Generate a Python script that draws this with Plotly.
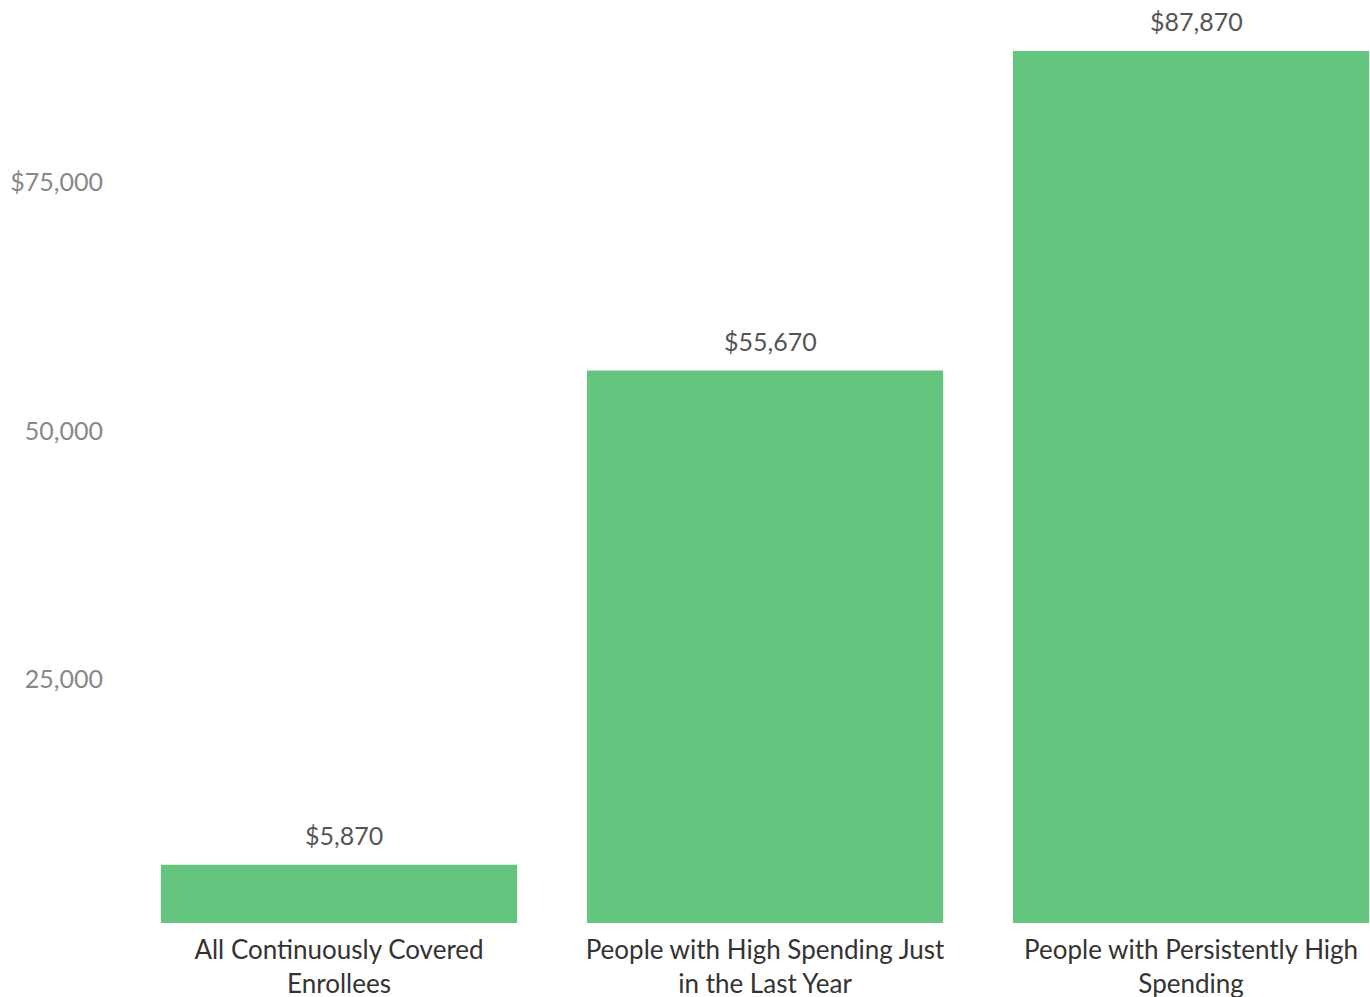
import plotly.graph_objects as go

# Average annual spending per enrollee, by group
categories = [
    "All Continuously Covered<br>Enrollees",
    "People with High Spending Just<br>in the Last Year",
    "People with Persistently High<br>Spending",
]
spending = [5870, 55670, 87870]
value_labels = ["$5,870", "$55,670", "$87,870"]

y_tick_values = [25000, 50000, 75000]
y_tick_labels = ["25,000", "50,000", "$75,000"]

BAR_COLOR = "#64c67e"
FONT = "Lato"

x_pos = list(range(len(categories)))

fig = go.Figure(
    go.Bar(
        x=x_pos,
        y=spending,
        marker=dict(color=BAR_COLOR, line=dict(width=0)),
        width=0.836,
        hoverinfo="skip",
    )
)

# Value labels above each bar
for xi, v, lab in zip(x_pos, spending, value_labels):
    fig.add_annotation(
        x=xi, y=v, text=lab, showarrow=False,
        yanchor="bottom", yshift=13, xshift=5,
        font=dict(family=FONT, size=25, color="#555555"),
    )

fig.update_layout(
    width=1370, height=997,
    margin=dict(l=126, r=0, t=0, b=74),
    paper_bgcolor="white", plot_bgcolor="white",
    showlegend=False,
    font=dict(family=FONT),
    xaxis=dict(
        range=[-0.5, 2.42],
        tickmode="array", tickvals=x_pos, ticktext=categories,
        showgrid=False, zeroline=False, showline=False, ticks="",
        tickfont=dict(family=FONT, size=26, color="#333333"),
        ticklabelstandoff=9,
        automargin=False,
    ),
    yaxis=dict(
        range=[0, 93010],
        tickmode="array", tickvals=y_tick_values, ticktext=y_tick_labels,
        showgrid=False, zeroline=False, showline=False, ticks="",
        tickfont=dict(family=FONT, size=25, color="#888888"),
        ticklabelstandoff=22,
        ticklabelshift=4,
        automargin=False,
    ),
)

fig.write_html("out.html")
